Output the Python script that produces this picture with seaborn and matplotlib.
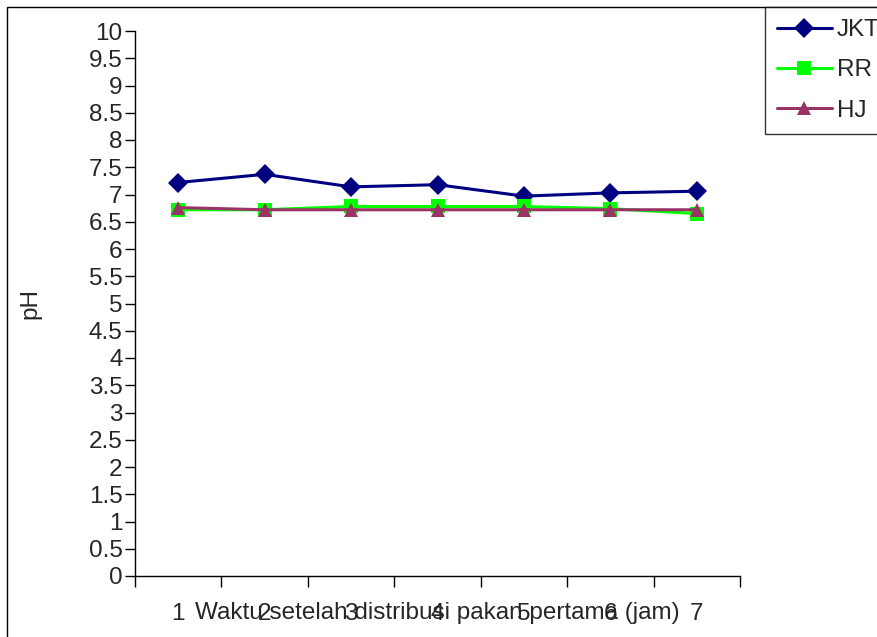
"""pH over time after first feed distribution, three sites."""
import matplotlib

matplotlib.use("Agg")
import matplotlib.pyplot as plt  # noqa: E402
import numpy as np  # noqa: E402
import pandas as pd  # noqa: E402
import seaborn as sns  # noqa: E402
from matplotlib.patches import Rectangle  # noqa: E402

hours = [1, 2, 3, 4, 5, 6, 7]
jkt = [7.22, 7.37, 7.14, 7.18, 6.97, 7.03, 7.06]
rr = [6.72, 6.72, 6.78, 6.78, 6.78, 6.74, 6.65]
hj = [6.76, 6.72, 6.72, 6.72, 6.72, 6.72, 6.72]
series = ["JKT", "RR", "HJ"]
y_ticks = np.arange(0, 10.5, 0.5)

colors = {"JKT": "#000080", "RR": "#00FF00", "HJ": "#993366"}
markers = {"JKT": "D", "RR": "s", "HJ": "^"}

df = pd.DataFrame({
    "jam": hours * 3,
    "pH": jkt + rr + hj,
    "site": [s for s in series for _ in hours],
})

sns.set_style("white")
plt.rcParams["font.family"] = ["Liberation Sans", "DejaVu Sans"]
FS = 17.5

fig = plt.figure(figsize=(8.78, 6.37), dpi=100)
ax = fig.add_axes([135 / 878, 1 - 576 / 637, 605 / 878, 545 / 637])

sns.lineplot(data=df, x="jam", y="pH", hue="site", style="site",
             hue_order=series, style_order=series, palette=colors,
             markers=markers, dashes=False, markersize=10, linewidth=2.2,
             markeredgewidth=0, ax=ax)

ax.set_xlim(0.5, 7.5)
ax.set_ylim(0, 10)
ax.set_yticks(y_ticks)
ax.set_yticklabels([f"{v:g}" for v in y_ticks], fontsize=FS)
ax.set_xticks(hours)
ax.set_xticklabels([str(h) for h in hours], fontsize=FS)
ax.set_xticks(np.arange(0.5, 8.0, 1.0), minor=True)
ax.tick_params(axis="x", which="major", length=0, pad=19.5)
ax.tick_params(axis="x", which="minor", length=8, width=1, color="black",
               direction="out", bottom=True)
ax.tick_params(axis="y", length=7, width=1, color="black", direction="out",
               left=True, pad=2)
for s in ["top", "right"]:
    ax.spines[s].set_visible(False)
for s in ["left", "bottom"]:
    ax.spines[s].set_color("black")
    ax.spines[s].set_linewidth(1)

ax.set_xlabel("Waktu setelah distribusi pakan pertama (jam)", fontsize=FS)
ax.xaxis.set_label_coords(0.5, -0.068)
ax.xaxis.label.set_va("center")
ax.set_ylabel("pH", fontsize=FS)
ax.yaxis.set_label_coords(-0.155, 0.5)

handles, labels = ax.get_legend_handles_labels()
ax.get_legend().remove()
leg = fig.legend(handles, labels, loc="upper left",
                 bbox_to_anchor=(765 / 878, 1 - 7 / 637), fontsize=FS,
                 frameon=True, fancybox=False, edgecolor="black",
                 handlelength=2.25, handletextpad=0.2, labelspacing=0.75,
                 borderpad=0.5, borderaxespad=0)
leg.get_frame().set_linewidth(1)

fig.patches.append(Rectangle((7 / 878, -0.05), 1.2, 1 - 7 / 637 + 0.05,
                             transform=fig.transFigure, fill=False,
                             edgecolor="black", linewidth=1))

fig.savefig("out.png", dpi=100)
plt.close(fig)
